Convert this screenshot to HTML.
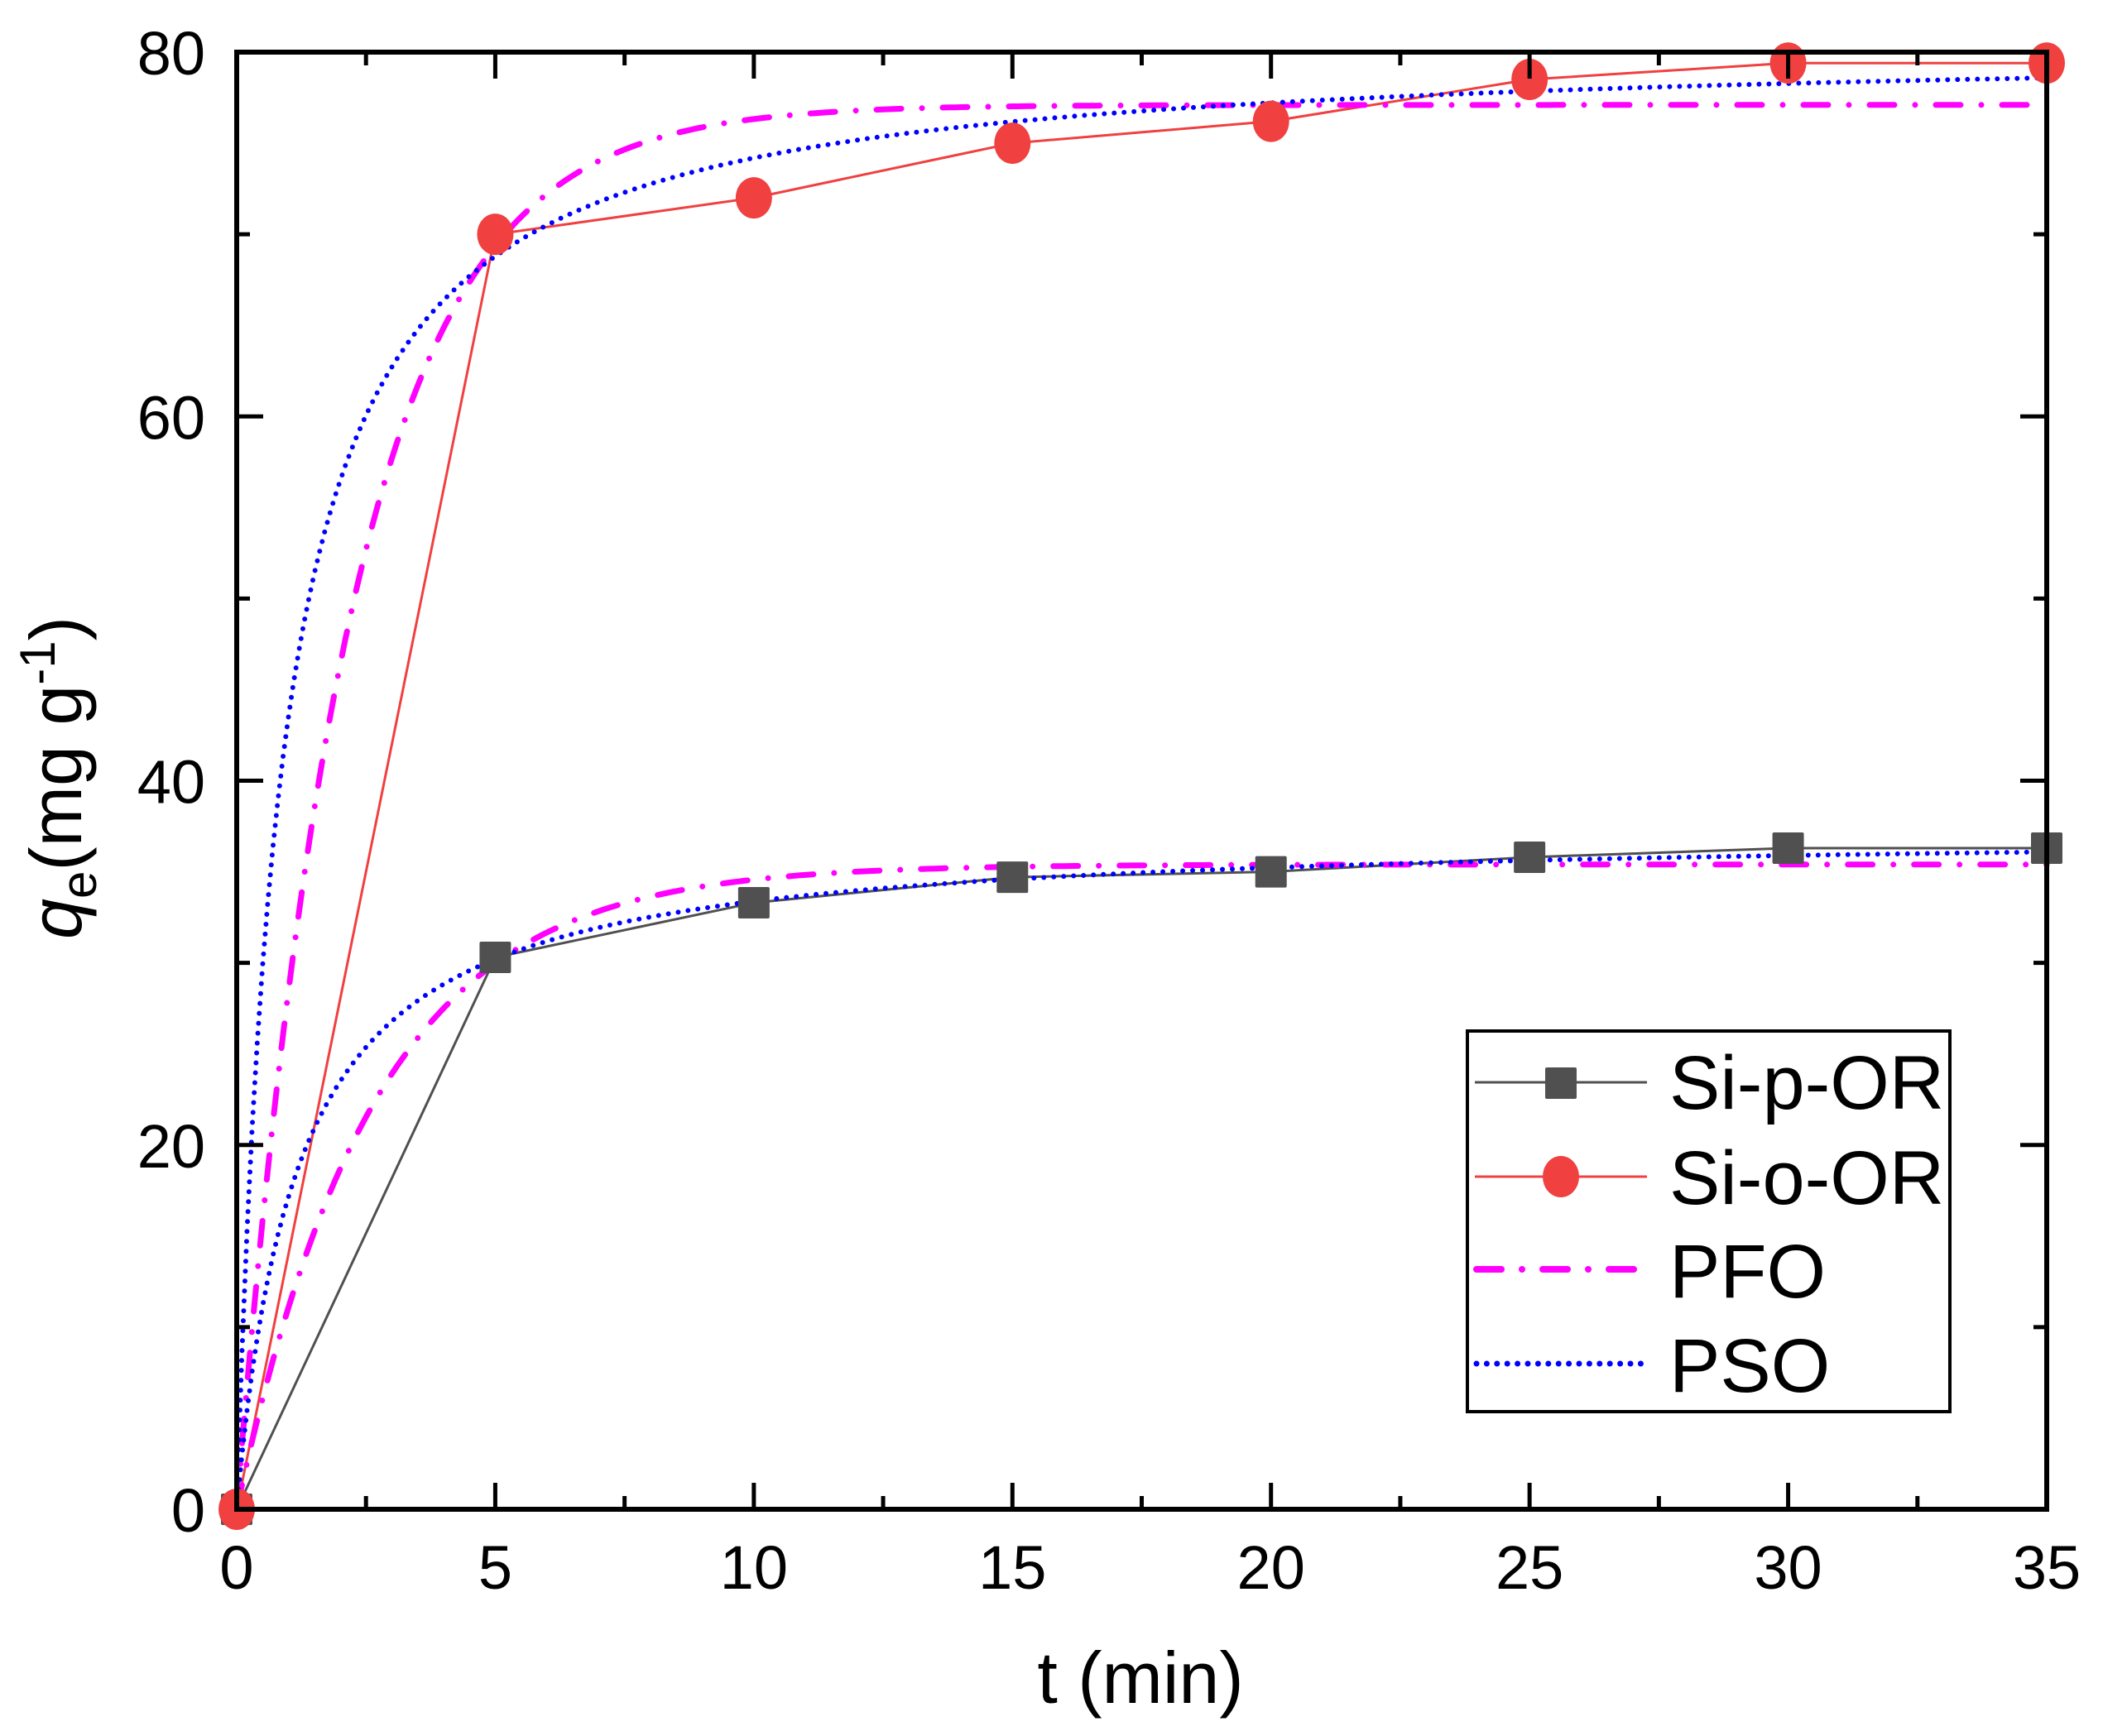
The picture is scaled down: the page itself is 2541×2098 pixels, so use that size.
<!DOCTYPE html>
<html><head><meta charset="utf-8"><style>
html,body{margin:0;padding:0;background:#fff;}
svg{display:block;font-family:"Liberation Sans",Arial,sans-serif;}
</style></head><body>
<svg id="chart" width="2541" height="2098" viewBox="0 0 2541 2098" xmlns="http://www.w3.org/2000/svg">
<g id="plot"></g>
<g id="axes"></g>
<text x="1378" y="2058" font-size="88" text-anchor="middle">t (min)</text>
<text transform="translate(98,940) rotate(-90)" font-size="88" text-anchor="middle"><tspan font-style="italic">q</tspan><tspan font-size="60" dy="18">e</tspan><tspan dy="-18">(mg g</tspan><tspan font-size="60" dy="-32">-1</tspan><tspan dy="32">)</tspan></text>
<g id="legend">
<rect x="1773" y="1246" width="583" height="460" fill="#fff" stroke="#000" stroke-width="4"/>
<g>
<line x1="1782" y1="1308" x2="1990" y2="1308" stroke="#505050" stroke-width="3"/>
<rect x="1867" y="1290" width="38" height="38" rx="2" fill="#505050"/>
<text x="2017" y="1340" font-size="92">Si-p-OR</text></g>
<g>
<line x1="1782" y1="1422" x2="1990" y2="1422" stroke="#f04040" stroke-width="3"/>
<ellipse cx="1886" cy="1422" rx="22" ry="25" fill="#f04040"/>
<text x="2017" y="1455" font-size="92">Si-o-OR</text></g>
<g>
<line x1="1784" y1="1534" x2="1990" y2="1534" stroke="#ff00ff" stroke-width="8" stroke-linecap="round" stroke-dasharray="30 25 0 25"/>
<text x="2017" y="1568" font-size="92">PFO</text></g>
<g>
<line x1="1784" y1="1648" x2="1990" y2="1648" stroke="#0000ff" stroke-width="7" stroke-linecap="round" stroke-dasharray="0 12.4"/>
<text x="2017" y="1682" font-size="92">PSO</text></g>
</g>
</svg>
<script>
const tValues=[0,5,10,15,20,25,30,35];
const siP=[0,30.3,33.3,34.7,35.0,35.8,36.3,36.3];
const siO=[0,70.0,72.0,75.0,76.2,78.5,79.4,79.4];
const pfoP=[35.4,0.375];   // qe, k1
const pfoO=[77.1,0.46];
const psoP=[37.3,0.0228];  // qe, k2
const psoO=[80.5,0.0146];
const xTicks=[0,5,10,15,20,25,30,35];
const yTicks=[0,20,40,60,80];

const NS="http://www.w3.org/2000/svg";
const L=286,R=2473,T=63,B=1824,XMAX=35,YMAX=80;
const sx=v=>L+(v/XMAX)*(R-L);
const sy=v=>B-(v/YMAX)*(B-T);
function mk(tag,attrs,parent){const e=document.createElementNS(NS,tag);for(const k in attrs)e.setAttribute(k,attrs[k]);parent.appendChild(e);return e;}
const plot=document.getElementById('plot'),axes=document.getElementById('axes');

function curvePts(f){const p=[];for(let i=0;i<=350;i++){const t=i*0.1;p.push(sx(t).toFixed(1)+','+sy(f(t)).toFixed(1));}return p.join(' ');}
function series(vals,color,name){
  const pts=tValues.map((t,i)=>sx(t)+','+sy(vals[i])).join(' ');
  const l=mk('polyline',{points:pts,fill:'none',stroke:color,'stroke-width':3},plot);
  
  
}
series(siP,'#505050','si-p-or');
series(siO,'#f04040','si-o-or');
[pfoP,pfoO].forEach((p,j)=>{
  const c=mk('polyline',{points:curvePts(t=>p[0]*(1-Math.exp(-p[1]*t))),fill:'none',stroke:'#ff00ff','stroke-width':7,'stroke-linecap':'round','stroke-dasharray':'30 25 0 25'},plot);
  
  
});
[psoP,psoO].forEach((p,j)=>{
  const c=mk('polyline',{points:curvePts(t=>p[0]*p[0]*p[1]*t/(1+p[0]*p[1]*t)),fill:'none',stroke:'#0000ff','stroke-width':6,'stroke-linecap':'round','stroke-dasharray':'0 12'},plot);
  
  
});
tValues.forEach((t,i)=>{
  const r=mk('rect',{x:sx(t)-19,y:sy(siP[i])-19,width:38,height:38,rx:2,fill:'#505050'},plot);
  
  
});
tValues.forEach((t,i)=>{
  const c=mk('ellipse',{cx:sx(t),cy:sy(siO[i]),rx:22,ry:25,fill:'#f04040'},plot);
  
  
});
const fr=mk('rect',{x:L,y:T,width:R-L,height:B-T,fill:'none',stroke:'#000','stroke-width':6},axes);


for(let v=0;v<=XMAX+0.01;v+=2.5){
  const major=Math.abs(v%5)<0.01,len=major?32:16,x=sx(v);
  mk('line',{x1:x,y1:B,x2:x,y2:B-len,stroke:'#000','stroke-width':5},axes);
  mk('line',{x1:x,y1:T,x2:x,y2:T+len,stroke:'#000','stroke-width':5},axes);
}
for(let v=0;v<=YMAX;v+=10){
  const major=v%20===0,len=major?32:16,y=sy(v);
  mk('line',{x1:L,y1:y,x2:L+len,y2:y,stroke:'#000','stroke-width':5},axes);
  mk('line',{x1:R,y1:y,x2:R-len,y2:y,stroke:'#000','stroke-width':5},axes);
}
xTicks.forEach(v=>{
  const t=mk('text',{x:sx(v),y:1920,'font-size':74,'text-anchor':'middle'},axes);t.textContent=v;
  
  
});
yTicks.forEach(v=>{
  const t=mk('text',{x:248,y:sy(v)+27,'font-size':74,'text-anchor':'end'},axes);t.textContent=v;
  
  
});
</script>
</body></html>
